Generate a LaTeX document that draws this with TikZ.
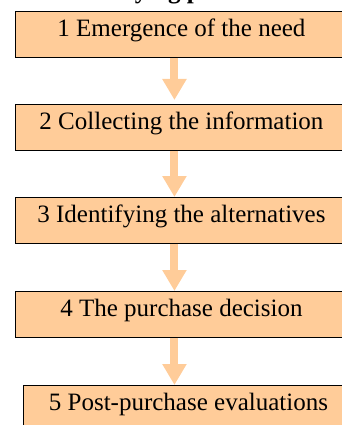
\documentclass[tikz,border=0pt]{standalone}
\usepackage{fontspec}
\setmainfont{Liberation Serif}
\usetikzlibrary{arrows.meta}
\definecolor{peach}{HTML}{FFCC99}
\tikzset{
  stage/.style={draw,fill=peach,line width=.9pt,inner sep=0pt,minimum width=332pt,
    text height=25pt,text depth=21pt,anchor=north west},
  flow/.style={draw=peach,line width=8pt,-{Triangle[length=21pt,width=23pt]}}
}
\begin{document}
\begin{tikzpicture}[x=1pt,y=-1pt,font=\fontsize{25}{29}\selectfont]
\useasboundingbox (0,0) rectangle (342,425);
\clip (0,0) rectangle (342,425);
% title, cut off at the top edge
\node[font=\fontsize{25}{29}\selectfont\bfseries,anchor=base] (title) at (185,-1) {Buying process};
% the five stages
\node[stage] (s1) at (15,11) {1 Emergence of the need};
\node[stage] (s2) at (15,104) {2 Collecting the information};
\node[stage] (s3) at (15,197) {3 Identifying the alternatives};
\node[stage] (s4) at (15,291) {4 The purchase decision};
\node[stage,minimum width=330pt] (s5) at (23,385) {5 Post-purchase evaluations};
% arrows
\draw[flow,shorten >=4pt] ([xshift=-7pt]s1.south) -- ([xshift=-7pt]s2.north);
\draw[flow] ([xshift=-7pt]s2.south) -- ([xshift=-7pt]s3.north);
\draw[flow] ([xshift=-7pt]s3.south) -- ([xshift=-7pt]s4.north);
\draw[flow] ([xshift=-7pt]s4.south) -- ([xshift=-7pt]s4.south |- s5.north);
\end{tikzpicture}
\end{document}
